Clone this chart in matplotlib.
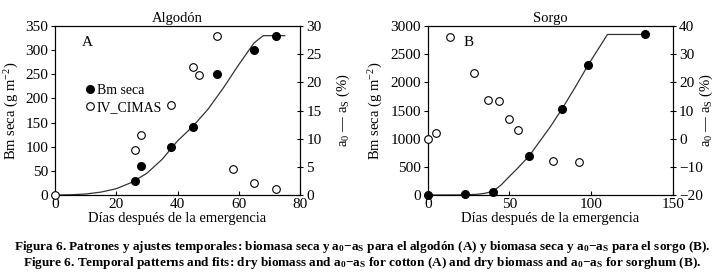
import numpy as np
import matplotlib
matplotlib.use("Agg")
import matplotlib.pyplot as plt
from matplotlib.lines import Line2D

plt.rcParams['font.family'] = ['Liberation Serif', 'DejaVu Serif']
plt.rcParams['mathtext.fontset'] = 'custom'
plt.rcParams['mathtext.rm'] = 'Liberation Serif'
plt.rcParams['mathtext.it'] = 'Liberation Serif:italic'
plt.rcParams['mathtext.bf'] = 'Liberation Serif:bold'

# algodon (A)
cot_days = [26, 28, 38, 45, 53, 65, 72]
cot_bm = [30, 60, 100, 140, 250, 300, 330]
cot_iv_days = [0, 26, 28, 38, 45, 47, 53, 58, 65, 72]
cot_iv = [0, 8.0, 10.7, 16.0, 22.8, 21.3, 28.3, 4.7, 2.1, 1.1]
cot_fit_days = [0, 5, 10, 15, 20, 25, 30, 35, 40, 45, 50, 55, 60, 65, 68, 75]
cot_fit = [0, 0.5, 2, 6, 13, 26, 45, 74, 112, 142, 178, 222, 270, 315, 330, 330]

# sorgo (B)
sor_days = [0, 23, 40, 62, 82, 98, 133]
sor_bm = [0, 10, 60, 690, 1520, 2300, 2850]
sor_iv_days = [0, 5, 13.5, 28.5, 37, 43.5, 49.5, 55.5, 76.5, 92.5]
sor_iv = [0, 2, 36, 23.4, 13.8, 13.4, 7.1, 3.0, -7.9, -8.2]
sor_fit_days = [0, 10, 20, 25, 30, 35, 40, 45, 50, 55, 62, 70, 75, 82, 90, 98, 105, 110, 133]
sor_fit = [0, 0, 2, 5, 12, 30, 65, 180, 330, 475, 690, 1010, 1210, 1520, 1900, 2300, 2620, 2850, 2850]

fs = 11
fig = plt.figure(figsize=(7.25, 2.8), dpi=100)


def panel(rect, title, letter, lx, yl_x, y2l_x, days, bm, ivd, iv, fd, fit,
          xlim, xt, ylim, yt, y2lim, y2t):
    ax = fig.add_axes(rect)
    ax.plot(fd, fit, color='#333333', lw=0.9, zorder=2)
    ax.plot(days, bm, 'o', color='black', ms=5.5, clip_on=False, zorder=3)
    ax.set_xlim(*xlim)
    ax.set_ylim(*ylim)
    ax.set_xticks(xt)
    ax.set_yticks(yt)
    ax.tick_params(axis='x', direction='in', length=3, labelsize=fs, pad=2)
    ax.tick_params(axis='y', direction='out', length=3, labelsize=fs, pad=2)
    ax.set_title(title, fontsize=fs - 0.5, pad=3)
    ax.set_xlabel("Días después de la emergencia", fontsize=fs - 0.5, labelpad=1)
    ax.set_ylabel("Bm seca (g m$^{-2}$)", fontsize=fs - 0.5)
    ax.yaxis.set_label_coords(yl_x, 0.5)
    ax.text(lx, 0.9, letter, transform=ax.transAxes, fontsize=fs, va='center')
    ax2 = ax.twinx()
    ax2.plot(ivd, iv, 'o', mfc='white', mec='black', mew=0.8, ms=5.5, clip_on=False, zorder=3)
    ax2.set_ylim(*y2lim)
    ax2.set_yticks(y2t)
    ax2.tick_params(direction='inout', length=5, labelsize=fs, pad=2)
    ax2.set_ylabel("a$_0$ \u2014 a$_\\mathrm{S}$ (%)", fontsize=fs - 0.5)
    ax2.yaxis.set_label_coords(y2l_x, 0.5)
    for a in (ax, ax2):
        for s in a.spines.values():
            s.set_linewidth(0.8)
    return ax, ax2


axA, axA2 = panel([0.0759, 0.3036, 0.3379, 0.6035], "Algodón", "A", 0.11, -0.139, 1.143,
                  cot_days, cot_bm, cot_iv_days, cot_iv, cot_fit_days, cot_fit,
                  (0, 80), [0, 20, 40, 60, 80], (0, 350), range(0, 351, 50),
                  (0, 30), range(0, 31, 5))

handles = [Line2D([], [], marker='o', ls='', color='black', ms=5.5),
           Line2D([], [], marker='o', ls='', mfc='white', mec='black', mew=0.8, ms=5.5)]
axA2.legend(handles, ["Bm seca", "IV_CIMAS"], loc='upper left', bbox_to_anchor=(0.1, 0.7),
            frameon=False, fontsize=fs - 1, handlelength=0.5, handletextpad=0.25,
            labelspacing=0.3, borderpad=0)

axB, axB2 = panel([0.590, 0.3036, 0.338, 0.6035], "Sorgo", "B", 0.145, -0.174, 1.103,
                  sor_days, sor_bm, sor_iv_days, sor_iv, sor_fit_days, sor_fit,
                  (0, 150), [0, 50, 100, 150], (0, 3000), range(0, 3001, 500),
                  (-20, 40), range(-20, 41, 10))

cap1 = ("Figura 6. Patrones y ajustes temporales: biomasa seca y a$_\\mathbf{0}$\u2212a$_\\mathbf{S}$ "
        "para el algodón (A) y biomasa seca y a$_\\mathbf{0}$\u2212a$_\\mathbf{S}$ para el sorgo (B).")
cap2 = ("Figure 6. Temporal patterns and fits: dry biomass and a$_\\mathbf{0}$\u2212a$_\\mathbf{S}$ "
        "for cotton (A) and dry biomass and a$_\\mathbf{0}$\u2212a$_\\mathbf{S}$ for sorghum (B).")
fig.text(0.5, 1 - 247 / 280, cap1, ha='center', va='center', fontsize=9.5, fontweight='bold')
fig.text(0.5, 1 - 263 / 280, cap2, ha='center', va='center', fontsize=9.5, fontweight='bold')

fig.savefig("out.png", dpi=100)
